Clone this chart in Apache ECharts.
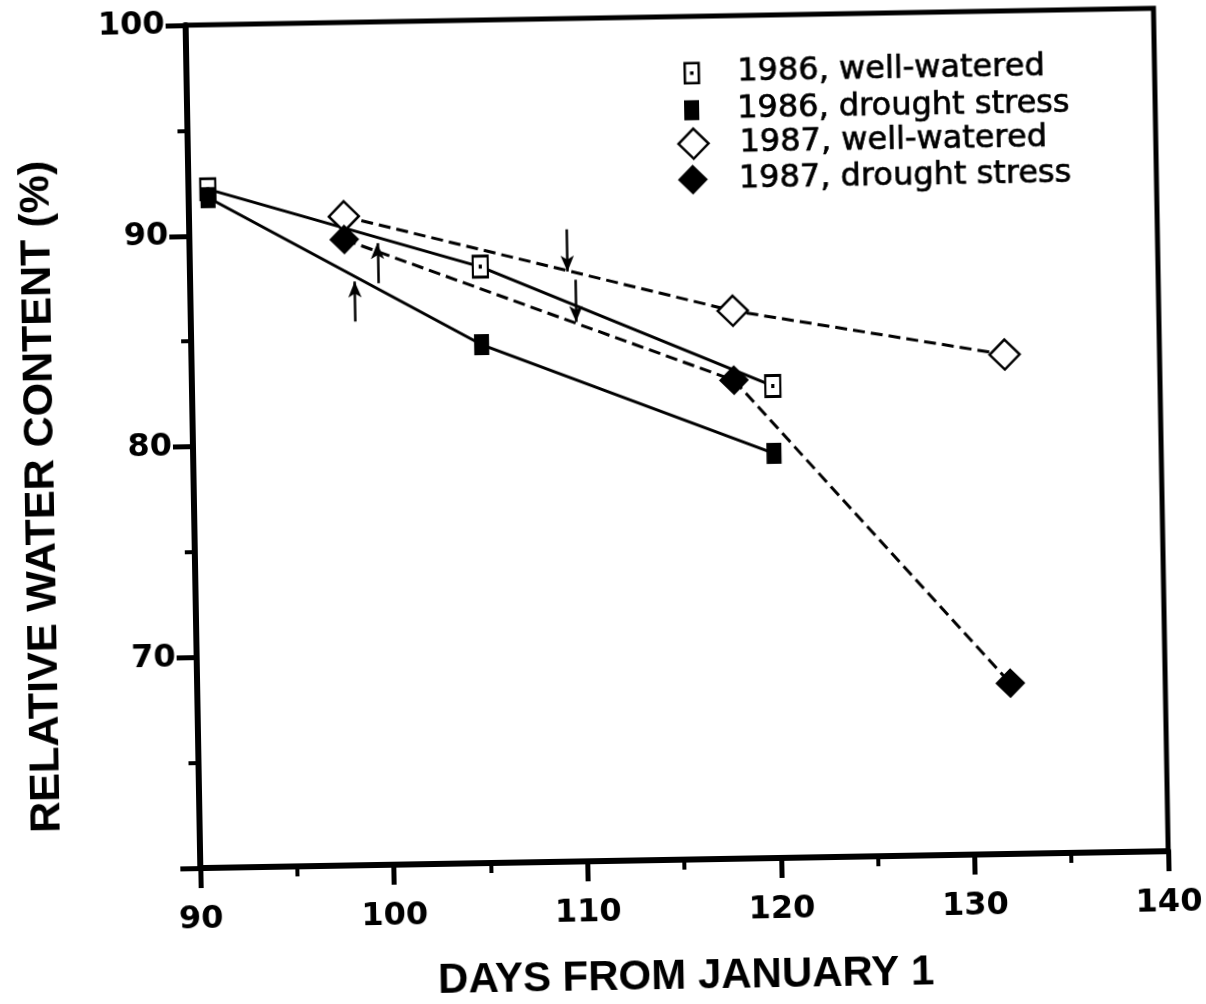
<!DOCTYPE html>
<html>
<head>
<meta charset="utf-8">
<title>Relative water content</title>
<script src="https://cdn.jsdelivr.net/npm/echarts@6/dist/echarts.min.js"></script>
<style>
  html, body { margin: 0; padding: 0; background: #fff; overflow: hidden; }
  /* the scanned figure sits about one degree off level */
  #chart { width: 1206px; height: 1004px; transform: rotate(-1deg); }
</style>
</head>
<body>
<div id="chart"></div>
<script>
const days1986 = [91, 105, 120]
const wellWatered1986 = [92.2, 88.3, 82.4]
const drought1986 = [91.8, 84.6, 79.2]

const days1987 = [98, 118, 132]
const wellWatered1987 = [90.8, 86.0, 83.7]
const drought1987 = [89.7, 82.7, 68.1]

const seriesNames = ['1986, well-watered', '1986, drought stress', '1987, well-watered', '1987, drought stress']

// small arrows on the plot: [day, tail value, tip value]
const arrows = [
  [98.5, 85.8, 87.7],
  [99.7, 87.6, 89.5],
  [109.5, 90.0, 88.0],
  [109.9, 87.6, 85.6],
]

const FONT_TITLE = 'Liberation Sans, Arial, sans-serif'
const FONT_TICK = 'DejaVu Sans, sans-serif'
const dottedSquare = 'path://M0,0H14V20H0Z M6.5,9.5H7.5V10.5H6.5Z'

const pairs = (xs, ys) => xs.map((x, i) => [x, ys[i]])

function lineSeries(name, data, { dashed, symbol, size, filled }) {
  return {
    name,
    type: 'line',
    data,
    symbol,
    symbolSize: size,
    showAllSymbol: true,
    lineStyle: { color: '#000', width: 3, type: dashed ? [12, 6] : 'solid' },
    itemStyle: { color: filled ? '#000' : '#fff', borderColor: '#000', borderWidth: filled ? 0 : 2.5 },
    emphasis: { disabled: true },
  }
}

// one legend block per entry so each marker keeps its own size
function legendItem(name, icon, { cx, cy, w, h, padLeft, stroke }) {
  return {
    data: [{ name, icon }],
    orient: 'vertical',
    padding: 0,
    left: cx - w / 2,
    top: cy - h / 2,
    itemWidth: w,
    itemHeight: h,
    selectedMode: false,
    itemStyle: { borderWidth: stroke },
    textStyle: {
      fontFamily: FONT_TICK,
      fontSize: 32,
      color: '#000',
      textBorderColor: '#000',
      textBorderWidth: 0.7,
      padding: [0, 0, 0, padLeft],
    },
  }
}

function axisStyle() {
  return {
    axisLine: { show: true, lineStyle: { color: '#000', width: 6 } },
    axisTick: { show: true, length: 20, lineStyle: { color: '#000', width: 5 } },
    minorTick: { show: true, splitNumber: 2, length: 10, lineStyle: { color: '#000', width: 4 } },
    splitLine: { show: false },
    minorSplitLine: { show: false },
  }
}

const titleText = { fontFamily: FONT_TITLE, fontWeight: 'bold', fontSize: 42, color: '#000' }
const tickText = { fontFamily: FONT_TICK, fontWeight: 'bold', fontSize: 32, color: '#000' }

const s1 = lineSeries(seriesNames[0], pairs(days1986, wellWatered1986), { dashed: false, symbol: dottedSquare, size: [15, 21], filled: false })
s1.markLine = {
  silent: true,
  symbol: ['none', 'arrow'],
  symbolSize: [10, 16],
  label: { show: false },
  lineStyle: { color: '#000', width: 2.5, type: 'solid' },
  emphasis: { disabled: true },
  data: arrows.map(([x, from, to]) => [{ coord: [x, from] }, { coord: [x, to] }]),
}

const option = {
  animation: false,
  backgroundColor: '#fff',
  grid: {
    left: 194, right: 44, top: 18, bottom: 143,
    show: true, borderColor: '#000', borderWidth: 5,
    containLabel: false, outerBoundsMode: 'none',
  },
  legend: [
    legendItem(seriesNames[0], dottedSquare, { cx: 698.5, cy: 68.5, w: 15, h: 20, padLeft: 33, stroke: 2.5 }),
    legendItem(seriesNames[1], 'rect', { cx: 698.5, cy: 105.5, w: 15, h: 20, padLeft: 33, stroke: 0 }),
    legendItem(seriesNames[2], 'diamond', { cx: 698.5, cy: 144, w: 30, h: 30, padLeft: 26, stroke: 2.5 }),
    legendItem(seriesNames[3], 'diamond', { cx: 698.5, cy: 180, w: 30, h: 30, padLeft: 26, stroke: 0 }),
  ],
  xAxis: {
    type: 'value',
    min: 90, max: 140, interval: 10,
    name: 'DAYS FROM JANUARY 1',
    nameLocation: 'middle',
    nameGap: 96,
    nameTextStyle: titleText,
    ...axisStyle(),
    axisLabel: { margin: 36, ...tickText },
  },
  yAxis: {
    type: 'value',
    min: 60, max: 100, interval: 10,
    name: 'RELATIVE WATER CONTENT (%)',
    nameLocation: 'middle',
    nameRotate: 90,
    nameGap: 130,
    nameTextStyle: { ...titleText, fontSize: 43, padding: [0, 95, 0, 0] },
    ...axisStyle(),
    axisLabel: { margin: 21, showMinLabel: false, ...tickText },
  },
  series: [
    s1,
    lineSeries(seriesNames[1], pairs(days1986, drought1986), { dashed: false, symbol: 'rect', size: [15, 21], filled: true }),
    lineSeries(seriesNames[2], pairs(days1987, wellWatered1987), { dashed: true, symbol: 'diamond', size: 30, filled: false }),
    lineSeries(seriesNames[3], pairs(days1987, drought1987), { dashed: true, symbol: 'diamond', size: 30, filled: true }),
  ],
}

const chart = echarts.init(document.getElementById('chart'))
chart.setOption(option)
</script>
</body>
</html>
